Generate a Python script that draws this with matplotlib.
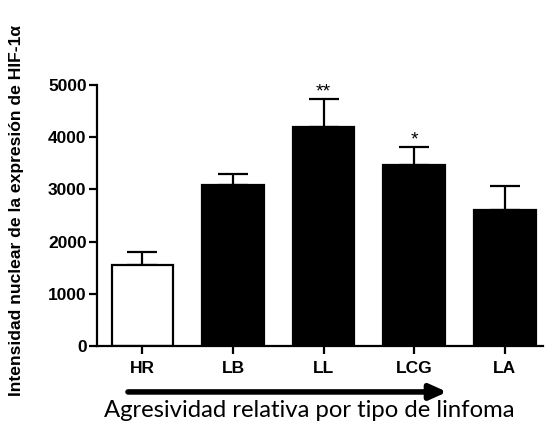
import matplotlib
matplotlib.use('Agg')
import matplotlib.pyplot as plt
import numpy as np

groups = ['HR', 'LB', 'LL', 'LCG', 'LA']
means = [1560, 3080, 4190, 3460, 2610]
errors = [250, 220, 540, 350, 450]
stars = ['', '', '**', '*', '']
fills = ['white', 'black', 'black', 'black', 'black']

plt.rcParams['font.family'] = ['Liberation Sans', 'DejaVu Sans']

fig = plt.figure(figsize=(5.46, 4.23), dpi=100)
ax = fig.add_axes([97 / 546, 1 - 346 / 423, 446 / 546, 261 / 423])

x = np.arange(len(groups))
ax.bar(x, means, width=0.68, color=fills, edgecolor='black', linewidth=1.6, zorder=2)
ax.errorbar(x, means, yerr=[np.zeros(len(errors)), errors], fmt='none',
            ecolor='black', elinewidth=1.6, capsize=10.5, capthick=1.6, zorder=1)

for xi, m, e, s in zip(x, means, errors, stars):
    if s:
        ax.text(xi, m + e - 20, s, ha='center', va='bottom', fontsize=14)

ax.set_xlim(-0.5, 4.42)
ax.set_ylim(0, 5000)
ax.set_yticks([0, 1000, 2000, 3000, 4000, 5000])
ax.set_xticks(x)
ax.set_xticklabels(groups)
for sp in ['top', 'right']:
    ax.spines[sp].set_visible(False)
for sp in ['left', 'bottom']:
    ax.spines[sp].set_linewidth(1.6)
ax.tick_params(axis='both', direction='out', length=5.5, width=1.6, labelsize=12.5)
ax.tick_params(axis='y', pad=2)
ax.tick_params(axis='x', pad=5)
for lab in ax.get_xticklabels() + ax.get_yticklabels():
    lab.set_fontweight('bold')

fig.text(17 / 546, 1 - 210 / 423, 'Intensidad nuclear de la expresión de HIF-1α', rotation=90,
         ha='center', va='center', fontsize=12.6, fontweight='bold')

ax.annotate('', xy=(0.785, -0.176), xytext=(0.0695, -0.176), xycoords='axes fraction',
            arrowprops=dict(arrowstyle='-|>,head_length=1.0,head_width=0.45',
                            color='black', lw=4, shrinkA=0, shrinkB=0))
fig.text(309 / 546, 1 - 410 / 423, 'Agresividad relativa por tipo de linfoma',
         ha='center', va='center', fontsize=17.2, family='Lato')

fig.savefig('out.png', dpi=100)
